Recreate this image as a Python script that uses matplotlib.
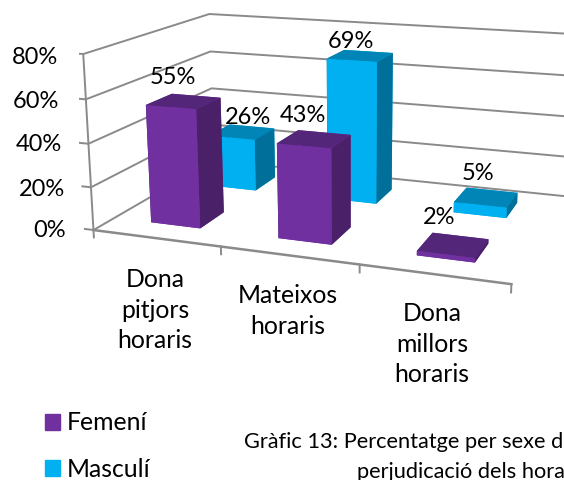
import matplotlib
matplotlib.use('Agg')
import matplotlib.pyplot as plt
from matplotlib.patches import Patch

plt.rcParams['font.family'] = ['Lato', 'DejaVu Sans']

# Values
categories = ['Dona\npitjors\nhoraris', 'Mateixos\nhoraris', 'Dona\nmillors\nhoraris']
femeni = [55, 43, 2]
masculi = [26, 69, 5]
y_ticks = [0, 20, 40, 60, 80]
y_labels = ['0%', '20%', '40%', '60%', '80%']

# Face colours: bottom, top, front, back, left, right
purple = ['#7030a0', '#54267a', '#7030a0', '#7030a0', '#4a2068', '#4a2068']
blue = ['#00b0f0', '#0085b6', '#00b0f0', '#00b0f0', '#006f99', '#006f99']
grid_col = '#8a8a8a'
num_size = 17
word_size = 17.8
caption_size = 15.7


def px(x, y):
    # pixel position to figure fraction
    return x / 564, 1 - y / 480


fig = plt.figure(figsize=(5.64, 4.8), dpi=100)

# camera fitted against the corners of the reference, right side runs off the figure
size = 504.25
ax = fig.add_axes([(331.6 - size / 2) / 564, (480 - 136.3 - size / 2) / 480, size / 564, size / 480],
                  projection='3d', computed_zorder=False)
ax.set_xlim(0, 3, view_margin=0)
ax.set_ylim(0, 1, view_margin=0)
ax.set_zlim(0, 80, view_margin=0)
ax.set_box_aspect((2.366, 1.517, 1))
ax.set_proj_type('persp', focal_length=0.4238)
ax.view_init(14.31, -69.74, 0.155)
ax.set_axis_off()
ax.patch.set_alpha(0)

# walls
for z in y_ticks:
    ax.plot([-0.07, 0, 0, 3], [0, 0, 1, 1], [z, z, z, z], color=grid_col, lw=1.4, zorder=1)
ax.plot([0, 0], [0, 0], [0, 80], color=grid_col, lw=1.4, zorder=1)
ax.plot([0, 3], [0, 0], [0, 0], color=grid_col, lw=1.8, zorder=1)
for i in range(len(categories) + 1):
    ax.plot([i, i], [0, 0], [0, -3.5], color=grid_col, lw=1.4, zorder=1)

# bars, back row first
margin = 0.3023
depth = 0.1499
for row, (values, colors) in enumerate([(masculi, blue), (femeni, purple)]):
    y0 = (0.5 if row == 0 else 0) + depth
    for i, v in enumerate(values):
        ax.bar3d(i + margin, y0, 0, 1 - 2 * margin, 0.5 - 2 * depth, v, color=colors,
                 shade=False, linewidth=0, zorder=2 + row + i * 0.1)

# value labels
femeni_pos = [(173, 78), (303, 116), (439, 218)]
masculi_pos = [(248, 118), (351, 42), (478, 174)]
for values, positions in [(femeni, femeni_pos), (masculi, masculi_pos)]:
    for v, (x, y) in zip(values, positions):
        fig.text(*px(x, y), f'{v}%', ha='center', va='center', fontsize=num_size, color='black')

# axis labels
tick_y = [231, 189, 145, 101, 57]
tick_x = [66, 65, 62, 59, 58]
for lab, x, y in zip(y_labels, tick_x, tick_y):
    fig.text(*px(x, y), lab, ha='right', va='center', fontsize=num_size)

cat_pos = [(155, 310), (288, 311), (432, 344)]
for lab, (x, y) in zip(categories, cat_pos):
    fig.text(*px(x, y), lab, ha='center', va='center', fontsize=word_size, linespacing=1.4)

handles = [Patch(color=purple[0], label='Femení'), Patch(color=blue[0], label='Masculí')]
fig.legend(handles=handles, loc='upper left', bbox_to_anchor=px(37.5, 404), frameon=False,
           fontsize=word_size, handlelength=0.62, handleheight=0.62, handletextpad=0.28,
           labelspacing=0.94, borderpad=0.3, borderaxespad=0)

# caption, cut by the edge of the picture as in the original
fig.text(*px(244, 442), 'Gràfic 13: Percentatge per sexe d', ha='left', va='center', fontsize=caption_size)
fig.text(*px(357, 472), 'perjudicació dels hora', ha='left', va='center', fontsize=caption_size)

fig.savefig('out.png', dpi=100)
